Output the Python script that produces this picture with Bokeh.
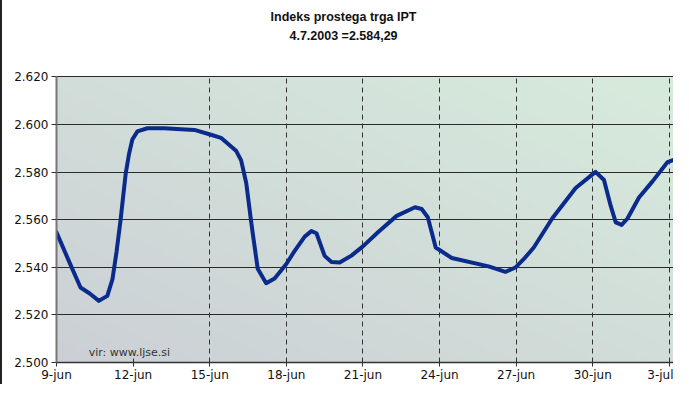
import numpy as np
from bokeh.plotting import figure
from bokeh.models import Range1d, FixedTicker
from bokeh.core.properties import value
from bokeh.embed import file_html
from bokeh.resources import INLINE

# ---- data (days counted from 9-jun-2003) ----
days = [0, 0.55, 0.94, 1.3, 1.66, 1.99, 2.19, 2.35, 2.51, 2.71, 2.84, 2.97, 3.17,
        3.56, 4.22, 4.87, 5.40, 6.05, 6.44, 7.03, 7.23, 7.43, 7.62, 7.69, 7.88,
        8.21, 8.54, 9.0, 9.32, 9.72, 9.98, 10.18, 10.5, 10.77, 11.09, 11.55, 12.01,
        12.6, 13.32, 14.04, 14.3, 14.54, 14.85, 15.48, 16.92, 17.58, 17.97, 18.36,
        18.69, 19.41, 20.33, 21.11, 21.44, 21.7, 21.9, 22.13, 22.36, 22.81, 23.34,
        23.93, 24.26, 24.87]
ipt = [2.5547, 2.5410, 2.5315, 2.5290, 2.5259, 2.5280, 2.5349, 2.5464, 2.5600,
       2.5794, 2.5876, 2.5937, 2.5971, 2.5984, 2.5984, 2.5980, 2.5977, 2.5957,
       2.5944, 2.5890, 2.5849, 2.5754, 2.5593, 2.5539, 2.5394, 2.5333, 2.5353,
       2.5414, 2.5468, 2.5529, 2.5552, 2.5543, 2.5448, 2.5422, 2.5420, 2.5449,
       2.5489, 2.5548, 2.5616, 2.5652, 2.5645, 2.5610, 2.5483, 2.5439, 2.5404,
       2.5381, 2.5399, 2.5442, 2.5483, 2.5605, 2.5733, 2.5801, 2.5767, 2.5659,
       2.5589, 2.5578, 2.5605, 2.5693, 2.5761, 2.5842, 2.5855, 2.5842]

x_ticks = [0, 3, 6, 9, 12, 15, 18, 21, 24]
x_labels = ["9-jun", "12-jun", "15-jun", "18-jun", "21-jun", "24-jun", "27-jun", "30-jun", "3-jul"]
x_grid = [6, 9, 12, 15, 18, 21, 24]
y_ticks = [2.50, 2.52, 2.54, 2.56, 2.58, 2.60, 2.62]
y_labels = ["2.500", "2.520", "2.540", "2.560", "2.580", "2.600", "2.620"]

title1 = "Indeks prostega trga IPT"
title2 = "4.7.2003 =2.584,29"
source = "vir: www.ljse.si"

X0, X1 = 0, 24.24
Y0, Y1 = 2.50, 2.62
PX_PER_UNIT = 2400.0          # vertical scale (pixels per index unit)
TOP_PAD = 77                  # pixels between figure top and 2.620
Y_TOP = Y1 + TOP_PAD / PX_PER_UNIT

p = figure(width=673, height=384, output_backend="svg", toolbar_location=None,
           x_range=Range1d(X0, X1), y_range=Range1d(Y0, Y_TOP),
           min_border_left=54, min_border_right=0, min_border_top=0,
           min_border_bottom=19)
p.outline_line_color = None
p.background_fill_color = "white"
p.border_fill_color = "white"
p.styles = {"border-left": "2px solid #222222"}

# gradient background of the plot area
n = 64
u = np.linspace(0, 1, n)
U, V = np.meshgrid(u, u)
t = (U + V) / 2.0
c0 = np.array([204, 208, 214])
c1 = np.array([215, 235, 220])
img = np.zeros((n, n), dtype=np.uint32)
view = img.view(dtype=np.uint8).reshape((n, n, 4))
for k in range(3):
    view[:, :, k] = (c0[k] + (c1[k] - c0[k]) * t).astype(np.uint8)
view[:, :, 3] = 255
p.image_rgba(image=[img], x=X0, y=Y0, dw=X1 - X0, dh=Y1 - Y0, level="image")

# grids
p.ygrid.ticker = FixedTicker(ticks=y_ticks)
p.ygrid.grid_line_color = "#2a2a2a"
p.ygrid.grid_line_width = 1
p.xgrid.ticker = FixedTicker(ticks=x_grid)
p.xgrid.grid_line_color = "#333333"
p.xgrid.grid_line_dash = "5 4"
p.xgrid.grid_line_width = 1
try:
    p.xgrid.cross_bounds = (Y0, Y1)
except Exception:
    p.xgrid.visible = False
    p.segment(x0=x_grid, y0=[Y0] * len(x_grid), x1=x_grid, y1=[Y1] * len(x_grid),
              line_color="#333333", line_dash="5 4", line_width=1)

# axes
p.xaxis.ticker = FixedTicker(ticks=x_ticks)
p.xaxis.major_label_overrides = {k: v for k, v in zip(x_ticks, x_labels)}
p.yaxis.ticker = FixedTicker(ticks=y_ticks)
p.yaxis.major_label_overrides = {k: v for k, v in zip(y_ticks, y_labels)}
p.yaxis.bounds = (Y0, Y1)
for ax in (p.xaxis, p.yaxis):
    ax.major_label_text_font = "DejaVu Sans"
    ax.major_label_text_font_size = "12px"
    ax.major_label_text_color = "#111111"
    ax.minor_tick_line_color = None
p.xaxis.axis_line_color = "#333333"
p.xaxis.axis_line_width = 1.5
p.xaxis.major_tick_in = 4
p.xaxis.major_tick_out = 4
p.xaxis.major_tick_line_color = "#333333"
p.xaxis.major_label_standoff = 1
p.yaxis.axis_line_color = "#777777"
p.yaxis.axis_line_width = 2
p.yaxis.major_tick_in = 0
p.yaxis.major_tick_out = 5
p.yaxis.major_tick_line_color = "#333333"
p.yaxis.major_label_standoff = 3

# series
p.line(days, ipt, line_color="#0a2a8c", line_width=4, line_join="round", line_cap="round")

# source text
p.text(x=[1.26], y=[Y0 + 10 / PX_PER_UNIT], text=[source], text_font=value("DejaVu Sans"),
       text_font_size="11px", text_color="#333333", text_baseline="alphabetic")

# titles (inside the extended frame, above the data area)
title_x = 11.24
p.text(x=[title_x], y=[Y1 + 60 / PX_PER_UNIT], text=[title1],
       text_font=value("Liberation Sans"), text_font_style="bold",
       text_font_size="12.5px", text_color="#111111",
       text_align="center", text_baseline="middle")
p.text(x=[title_x], y=[Y1 + 41 / PX_PER_UNIT], text=[title2],
       text_font=value("Liberation Sans"), text_font_style="bold",
       text_font_size="12.5px", text_color="#111111",
       text_align="center", text_baseline="middle")

open("out.html", "w").write(file_html(p, INLINE))
